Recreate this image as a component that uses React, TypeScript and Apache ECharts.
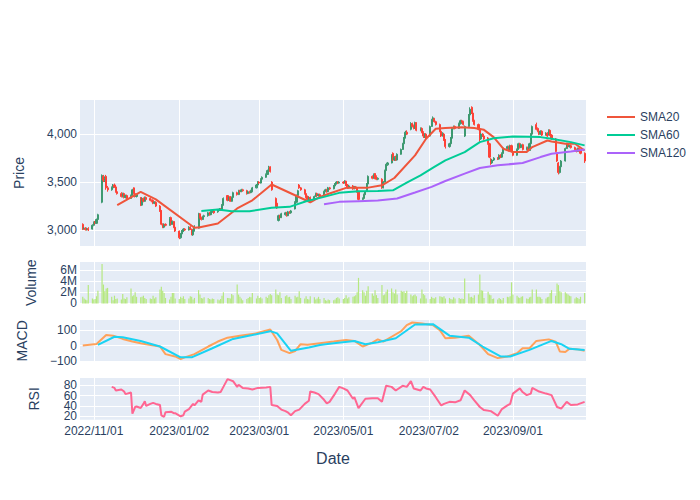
import React, { useEffect, useRef } from 'react';
import * as echarts from 'echarts';

const AXIS_START = '2022-10-22';
const AXIS_END = '2023-10-24';
const FIRST_TRADING_DAY = '2022-10-24';
const TICK_DATES = ['2022-11-01', '2023-01-02', '2023-03-01', '2023-05-01', '2023-07-02', '2023-09-01'];

// [open, close, low, high] per trading day
const candles: number[][] = [
  [3060,3010,3000,3070],[3010,3020,3005,3030],[3020,3005,2995,3030],[3005,3015,2995,3025],[3015,3000,2990,3030],
  [3010,3050,3005,3060],[3050,3080,3040,3090],[3080,3070,3060,3095],[3070,3110,3065,3120],[3110,3160,3100,3170],
  [3290,3570,3280,3580],[3560,3520,3500,3575],[3520,3540,3500,3560],[3560,3440,3420,3575],[3440,3420,3400,3460],
  [3420,3440,3410,3455],[3440,3470,3430,3480],[3470,3450,3440,3485],[3450,3400,3390,3460],[3400,3380,3370,3420],
  [3380,3350,3340,3395],[3350,3380,3340,3390],[3380,3340,3330,3390],[3340,3360,3330,3370],[3360,3330,3320,3370],
  [3330,3360,3325,3370],[3360,3420,3350,3430],[3440,3380,3370,3445],[3380,3350,3340,3390],[3350,3370,3340,3380],
  [3340,3260,3250,3345],[3260,3330,3255,3340],[3330,3300,3290,3340],[3300,3340,3295,3350],[3340,3320,3310,3350],
  [3330,3310,3300,3340],[3310,3300,3290,3320],[3310,3280,3270,3320],[3280,3290,3270,3300],[3290,3250,3240,3300],
  [3250,3200,3190,3260],[3200,3060,3050,3210],[3060,3030,3020,3070],[3030,3060,3020,3070],[3060,3050,3040,3070],
  [3050,3120,3045,3135],[3130,3060,3050,3140],[3060,3090,3055,3100],[3090,3030,3020,3095],[3030,2990,2980,3040],
  [2990,2920,2905,2995],[2920,2960,2910,2970],[2960,2990,2950,3000],[2990,3010,2980,3020],[3010,3000,2990,3020],
  [3000,3030,2995,3040],[3030,3010,3000,3040],[3010,2960,2945,3015],[2950,2990,2940,3000],[2990,3040,2985,3050],
  [3020,3170,3015,3180],[3170,3130,3120,3175],[3130,3110,3100,3140],[3110,3140,3105,3150],[3140,3150,3130,3160],
  [3150,3180,3140,3190],[3180,3160,3150,3190],[3160,3190,3155,3200],[3190,3200,3180,3210],[3200,3180,3170,3210],
  [3190,3210,3180,3220],[3210,3220,3200,3230],[3220,3210,3200,3230],[3210,3260,3205,3270],[3260,3330,3255,3340],
  [3360,3310,3300,3365],[3310,3340,3305,3350],[3350,3300,3295,3355],[3300,3340,3295,3350],[3340,3390,3335,3400],
  [3390,3370,3360,3400],[3370,3410,3365,3420],[3410,3400,3390,3420],[3400,3420,3395,3430],[3420,3410,3400,3430],
  [3410,3380,3370,3420],[3380,3400,3375,3410],[3400,3390,3380,3410],[3390,3410,3385,3420],[3400,3440,3395,3450],
  [3440,3470,3435,3480],[3470,3500,3460,3510],[3500,3490,3480,3510],[3490,3530,3485,3540],[3530,3550,3520,3560],
  [3550,3580,3545,3590],[3580,3620,3575,3630],[3620,3650,3610,3670],[3660,3610,3600,3665],[3500,3420,3410,3510],
  [3330,3250,3240,3340],[3280,3230,3220,3290],[3100,3150,3090,3160],[3150,3130,3120,3160],[3130,3170,3125,3180],
  [3160,3180,3150,3190],[3180,3150,3140,3190],[3150,3190,3145,3200],[3190,3180,3170,3200],[3180,3200,3170,3210],
  [3220,3290,3215,3300],[3290,3360,3285,3370],[3360,3410,3355,3420],[3470,3440,3430,3480],[3440,3420,3410,3450],
  [3420,3380,3370,3430],[3380,3340,3330,3390],[3350,3320,3310,3360],[3320,3340,3310,3350],[3340,3310,3300,3350],
  [3310,3350,3305,3360],[3350,3380,3345,3390],[3380,3360,3350,3390],[3360,3370,3350,3380],[3370,3350,3340,3380],
  [3350,3400,3345,3410],[3400,3420,3395,3430],[3420,3400,3390,3430],[3400,3440,3395,3450],[3440,3430,3420,3450],
  [3430,3460,3425,3470],[3460,3480,3455,3490],[3480,3500,3475,3510],[3500,3490,3480,3510],[3490,3500,3485,3510],
  [3500,3490,3480,3510],[3490,3510,3485,3520],[3510,3470,3460,3515],[3470,3440,3430,3480],[3440,3460,3435,3470],
  [3460,3430,3420,3470],[3430,3450,3425,3460],[3450,3440,3430,3460],[3440,3400,3390,3450],[3400,3320,3310,3410],
  [3320,3330,3310,3340],[3330,3370,3325,3380],[3370,3400,3365,3410],[3410,3480,3405,3490],[3480,3560,3475,3570],
  [3560,3540,3530,3570],[3540,3580,3535,3590],[3590,3540,3530,3595],[3560,3530,3520,3570],[3530,3540,3520,3550],
  [3530,3440,3430,3540],[3440,3500,3435,3510],[3500,3620,3495,3630],[3620,3680,3615,3690],[3680,3700,3670,3710],
  [3700,3780,3695,3790],[3800,3730,3720,3810],[3730,3760,3720,3770],[3760,3730,3720,3775],[3730,3790,3725,3800],
  [3790,3840,3785,3850],[3840,3900,3835,3910],[3900,3960,3895,3970],[3960,4020,3955,4035],[4020,4000,3990,4040],
  [4050,4110,4040,4125],[4110,4080,4070,4120],[4090,4060,4050,4100],[4060,4120,4055,4130],[4120,4040,4030,4125],
  [4040,4060,4030,4070],[4060,4020,4010,4070],[4020,3980,3960,4030],[3970,4000,3960,4010],[4000,3960,3950,4010],
  [3980,4080,3975,4090],[4080,4150,4075,4160],[4150,4170,4140,4185],[4160,4130,4120,4170],[4130,4100,4090,4140],
  [4100,4030,4020,4110],[4030,3980,3970,4040],[3980,4010,3975,4020],[4000,3940,3930,4010],[3940,3870,3850,3950],
  [3870,3900,3860,3910],[3900,3960,3895,3970],[3960,4060,3955,4070],[4060,4080,4050,4090],[4080,4060,4050,4090],
  [4060,4110,4055,4120],[4110,4140,4100,4150],[4140,4130,4120,4150],[4130,4100,4090,4140],[3980,4080,3970,4090],
  [4080,4200,4075,4210],[4200,4260,4190,4280],[4280,4220,4210,4290],[4220,4140,4130,4230],[4140,4100,4090,4150],
  [4100,4050,4040,4110],[4050,3950,3920,4060],[3950,4000,3940,4010],[4000,3980,3970,4010],[3980,3950,3940,3990],
  [3960,3900,3890,3970],[3900,3760,3750,3910],[3740,3700,3680,3750],[3700,3730,3690,3740],[3730,3750,3720,3760],
  [3750,3740,3730,3760],[3740,3780,3735,3790],[3780,3760,3750,3790],[3760,3800,3755,3810],[3800,3850,3795,3860],
  [3850,3870,3840,3880],[3870,3830,3820,3880],[3830,3880,3825,3890],[3880,3820,3810,3890],[3820,3780,3770,3830],
  [3780,3840,3775,3850],[3840,3900,3835,3910],[3900,3860,3850,3910],[3860,3890,3855,3900],[3890,3840,3830,3900],
  [3840,3860,3830,3870],[3860,3830,3820,3870],[3830,3900,3825,3910],[3900,4000,3895,4010],[4000,4080,3995,4090],
  [4100,4050,4040,4120],[4060,4030,4020,4070],[4030,4000,3990,4040],[4000,4030,3995,4040],[4030,3990,3980,4040],
  [3990,4010,3985,4020],[4010,3980,3970,4020],[3990,4040,3985,4050],[4040,3990,3980,4050],[3990,3950,3940,4000],
  [3950,3820,3810,3960],[3800,3720,3710,3810],[3700,3600,3580,3710],[3600,3660,3590,3670],[3660,3720,3650,3730],
  [3720,3850,3715,3860],[3850,3900,3845,3910],[3900,3870,3860,3910],[3870,3880,3860,3890],[3880,3860,3850,3890],
  [3860,3840,3830,3870],[3840,3820,3810,3850],[3820,3850,3815,3860],[3850,3830,3820,3860],[3830,3800,3790,3840],
  [3800,3720,3700,3810],
];

// volume in millions per trading day
const volumeM: number[] = [
  1.2,0.9,0.7,0.6,3.3,0.9,0.7,0.8,1.3,2.3,
  7.1,3.4,2.2,2.7,2.8,1.2,0.6,1.4,0.8,0.9,
  0.7,1.7,0.9,0.8,1.1,2.7,1.3,1.5,2.0,1.2,
  1.1,1.2,1.4,1.0,0.8,0.9,0.8,1.4,0.9,1.1,
  2.5,3.0,2.3,1.9,1.0,0.7,1.2,1.9,1.9,0.9,
  0.8,1.2,1.0,1.3,0.8,0.9,1.3,1.2,0.7,1.0,
  2.4,1.6,1.0,0.9,1.1,1.0,0.8,0.7,0.9,0.8,
  0.7,0.6,0.8,1.4,2.0,1.0,1.0,0.9,1.7,1.5,
  3.4,1.6,1.2,0.9,0.6,0.8,1.0,1.2,1.1,1.9,
  0.9,1.4,1.0,1.1,0.9,1.2,1.0,1.5,1.7,1.5,
  2.5,1.6,1.5,2.0,1.0,1.3,1.5,1.1,1.2,0.8,
  1.4,1.1,1.2,2.2,1.0,0.9,1.3,0.8,0.7,1.3,
  1.1,0.7,0.9,1.2,0.8,1.0,0.6,0.5,0.7,0.6,
  0.6,0.7,1.0,1.1,0.9,0.8,1.0,1.5,0.9,1.1,
  1.2,1.3,1.5,2.0,4.6,2.4,2.0,1.4,2.3,3.1,
  1.8,1.4,2.4,1.5,1.0,3.3,1.5,1.6,2.1,2.5,
  2.7,2.0,1.8,2.5,1.6,2.3,2.1,2.2,1.9,2.3,
  1.6,1.3,1.5,1.6,1.3,0.9,2.5,1.7,1.5,0.9,
  0.8,1.2,1.0,0.9,1.1,1.3,1.2,1.1,1.3,0.9,
  1.0,0.8,0.7,1.1,0.9,1.0,0.8,0.9,0.8,4.5,
  1.8,1.1,1.2,1.0,1.5,1.6,5.2,2.4,2.3,1.0,
  2.1,1.6,1.5,0.8,0.9,0.7,1.0,0.8,0.6,1.0,
  1.2,1.1,1.3,3.8,1.6,1.4,1.1,1.0,1.2,1.3,
  0.9,0.8,1.1,1.2,2.5,2.5,1.2,1.2,1.1,0.8,
  0.9,1.1,1.2,1.9,2.4,1.4,3.6,3.3,2.2,2.0,
  2.0,1.8,1.6,1.4,1.3,0.9,1.1,1.0,0.8,1.2,1.9,
];

const sma20: [string, number][] = [
  ['2022-11-18',3260],['2022-12-05',3398],['2022-12-16',3320],['2023-01-13',3024],['2023-01-17',3030],
  ['2023-01-30',3069],['2023-02-13',3225],['2023-02-24',3310],['2023-03-10',3475],['2023-04-07',3290],
  ['2023-04-14',3346],['2023-04-21',3381],['2023-05-03',3440],['2023-05-18',3440],['2023-05-29',3467],
  ['2023-06-07',3543],['2023-06-22',3779],['2023-06-30',3952],['2023-07-07',4056],['2023-07-14',4063],
  ['2023-07-26',4073],['2023-08-04',4063],['2023-08-11',4045],['2023-08-18',3969],['2023-08-25',3848],
  ['2023-09-01',3813],['2023-09-11',3813],['2023-09-15',3865],['2023-09-26',3934],['2023-09-29',3924],
  ['2023-10-09',3900],['2023-10-16',3900],['2023-10-23',3830],
];
const sma60: [string, number][] = [
  ['2023-01-18',3200],['2023-01-30',3215],['2023-02-09',3197],['2023-02-22',3197],['2023-03-10',3232],
  ['2023-03-23',3242],['2023-04-04',3300],['2023-04-17',3346],['2023-04-28',3388],['2023-05-12',3405],
  ['2023-05-26',3408],['2023-06-06',3415],['2023-06-16',3495],['2023-06-26',3571],['2023-07-06',3658],
  ['2023-07-14',3727],['2023-07-28',3813],['2023-08-08',3917],['2023-08-18',3958],['2023-09-01',3976],
  ['2023-09-21',3969],['2023-09-29',3952],['2023-10-13',3917],['2023-10-23',3883],
];
const sma120: [string, number][] = [
  ['2023-04-17',3270],['2023-04-28',3294],['2023-05-12',3301],['2023-05-26',3308],['2023-06-09',3329],
  ['2023-06-22',3391],['2023-07-04',3450],['2023-07-14',3512],['2023-07-28',3588],['2023-08-08',3647],
  ['2023-08-21',3675],['2023-09-08',3699],['2023-09-21',3761],['2023-09-29',3796],['2023-10-13',3820],
  ['2023-10-23',3841],
];
const macd: [string, number][] = [
  ['2022-10-24',0],['2022-11-03',10],['2022-11-10',68],['2022-11-15',64],['2022-11-22',43],['2022-11-29',26],
  ['2022-12-05',15],['2022-12-09',8],['2022-12-19',-6],['2022-12-23',-55],['2022-12-30',-70],['2023-01-03',-87],
  ['2023-01-06',-76],['2023-01-13',-55],['2023-01-23',-6],['2023-01-30',26],['2023-02-06',51],['2023-02-15',64],
  ['2023-02-27',79],['2023-03-09',104],['2023-03-14',36],['2023-03-17',-28],['2023-03-23',-49],['2023-03-27',-35],
  ['2023-03-31',9],['2023-04-05',5],['2023-04-14',15],['2023-04-24',26],['2023-05-03',36],['2023-05-09',30],
  ['2023-05-15',-6],['2023-05-22',19],['2023-05-26',40],['2023-05-30',25],['2023-06-05',57],['2023-06-12',93],
  ['2023-06-16',132],['2023-06-20',149],['2023-06-27',142],['2023-07-05',132],['2023-07-10',100],['2023-07-14',47],
  ['2023-07-21',51],['2023-07-31',64],['2023-08-08',4],['2023-08-14',-55],['2023-08-21',-81],['2023-08-28',-70],
  ['2023-09-04',-49],['2023-09-08',-17],['2023-09-13',-17],['2023-09-18',30],['2023-09-27',40],['2023-10-02',25],
  ['2023-10-05',-38],['2023-10-09',-42],['2023-10-12',-21],['2023-10-17',-23],['2023-10-23',-34],
];
const signal: [string, number][] = [
  ['2022-11-04',4],['2022-11-16',57],['2022-11-22',54],['2022-12-05',30],['2022-12-19',-6],['2023-01-03',-76],
  ['2023-01-11',-76],['2023-01-26',-17],['2023-02-10',43],['2023-02-24',68],['2023-03-09',93],['2023-03-14',79],
  ['2023-03-24',-34],['2023-04-06',-13],['2023-04-14',4],['2023-04-24',15],['2023-05-09',30],['2023-05-17',9],
  ['2023-05-26',21],['2023-06-08',47],['2023-06-22',136],['2023-07-05',138],['2023-07-17',64],['2023-07-31',51],
  ['2023-08-10',-6],['2023-08-23',-70],['2023-08-30',-70],['2023-09-13',-28],['2023-09-29',30],['2023-10-06',9],
  ['2023-10-12',-21],['2023-10-23',-28],
];
const rsi: [string, number][] = [
  ['2022-11-14',77],['2022-11-16',75],['2022-11-17',70],['2022-11-21',72],['2022-11-23',68],['2022-11-24',63],
  ['2022-11-28',66],['2022-11-29',25],['2022-12-01',38],['2022-12-02',39],['2022-12-05',36],['2022-12-07',44],
  ['2022-12-08',49],['2022-12-09',40],['2022-12-12',44],['2022-12-14',46],['2022-12-16',44],['2022-12-19',42],
  ['2022-12-20',22],['2022-12-22',19],['2022-12-23',28],['2022-12-27',29],['2022-12-29',26],['2022-12-30',26],
  ['2023-01-03',20],['2023-01-05',22],['2023-01-06',29],['2023-01-09',34],['2023-01-12',44],['2023-01-13',41],
  ['2023-01-16',51],['2023-01-18',48],['2023-01-19',62],['2023-01-23',70],['2023-01-26',67],['2023-01-30',66],
  ['2023-02-01',67],['2023-02-03',77],['2023-02-06',92],['2023-02-08',90],['2023-02-10',88],['2023-02-13',77],
  ['2023-02-14',81],['2023-02-17',75],['2023-02-21',74],['2023-02-24',72],['2023-02-28',75],['2023-03-06',76],
  ['2023-03-09',77],['2023-03-10',42],['2023-03-14',40],['2023-03-17',33],['2023-03-20',30],['2023-03-22',27],
  ['2023-03-24',22],['2023-03-27',30],['2023-03-30',33],['2023-04-03',44],['2023-04-06',50],['2023-04-07',68],
  ['2023-04-10',66],['2023-04-13',63],['2023-04-17',52],['2023-04-19',45],['2023-04-21',48],['2023-04-25',64],
  ['2023-04-28',77],['2023-05-01',74],['2023-05-04',70],['2023-05-08',54],['2023-05-09',57],['2023-05-12',36],
  ['2023-05-17',54],['2023-05-22',55],['2023-05-26',55],['2023-05-29',48],['2023-06-01',79],['2023-06-05',77],
  ['2023-06-08',70],['2023-06-13',79],['2023-06-16',77],['2023-06-19',88],['2023-06-21',74],['2023-06-26',70],
  ['2023-06-28',77],['2023-06-30',74],['2023-07-03',72],['2023-07-07',57],['2023-07-11',41],['2023-07-13',44],
  ['2023-07-17',48],['2023-07-21',47],['2023-07-25',51],['2023-07-28',70],['2023-08-01',61],['2023-08-04',51],
  ['2023-08-08',38],['2023-08-11',32],['2023-08-16',30],['2023-08-21',21],['2023-08-24',34],['2023-08-28',41],
  ['2023-08-30',44],['2023-09-01',64],['2023-09-06',74],['2023-09-08',67],['2023-09-11',61],['2023-09-14',64],
  ['2023-09-15',75],['2023-09-20',68],['2023-09-25',64],['2023-09-29',61],['2023-10-03',38],['2023-10-06',35],
  ['2023-10-10',48],['2023-10-13',42],['2023-10-18',43],['2023-10-23',48],
];

const DAY = 86400000;
const toUTC = (s: string) => {
  const [y, m, d] = s.split('-').map(Number);
  return Date.UTC(y, m - 1, d);
};
const fmt = (t: number) => new Date(t).toISOString().slice(0, 10);
const categories: string[] = [];
for (let t = toUTC(AXIS_START); t <= toUTC(AXIS_END); t += DAY) categories.push(fmt(t));
const catIndex = (s: string) => Math.round((toUTC(s) - toUTC(AXIS_START)) / DAY);
const tradingDays: string[] = [];
{
  let t = toUTC(FIRST_TRADING_DAY);
  while (tradingDays.length < candles.length) {
    const wd = new Date(t).getUTCDay();
    if (wd !== 0 && wd !== 6) tradingDays.push(fmt(t));
    t += DAY;
  }
}

const TEXT = '#2a3f5f';
const FONT = '"Liberation Sans", Arial, Helvetica, sans-serif';
const BG = '#E5ECF6';

const isTick = (_i: number, v: string) => TICK_DATES.indexOf(v) >= 0;
const pts = (arr: [string, number][]) => arr.map(([d, v]) => [catIndex(d), v]);

export default function App() {
  const ref = useRef<HTMLDivElement>(null);
  useEffect(() => {
    if (!ref.current) return;
    const chart = echarts.init(ref.current, undefined, { renderer: 'svg' });
    const gridBase = { left: 80, right: 114, show: true, backgroundColor: BG, borderWidth: 0 };
    const grids = [
      { ...gridBase, top: 100, height: 146 },
      { ...gridBase, top: 262, height: 41.5 },
      { ...gridBase, top: 320, height: 41.7 },
      { ...gridBase, top: 378, height: 41.7 },
    ];
    const xAxes = [0, 1, 2, 3].map((i) => ({
      type: 'category',
      gridIndex: i,
      data: categories,
      boundaryGap: false,
      axisLine: { show: false },
      axisTick: { show: false },
      axisLabel: i === 3
        ? { show: true, interval: isTick, formatter: (v: string) => v.replace(/-/g, '/'), color: TEXT, fontSize: 12, fontFamily: FONT, margin: 5 }
        : { show: false },
      splitLine: { show: true, interval: isTick, lineStyle: { color: '#ffffff', width: 1 } },
      name: i === 3 ? 'Date' : '',
      nameLocation: 'middle',
      nameGap: 31,
      nameTextStyle: { color: TEXT, fontSize: 16, fontFamily: FONT },
    }));
    const yBase = (i: number, name: string, gap: number) => ({
      type: 'value',
      gridIndex: i,
      name,
      nameLocation: 'middle',
      nameRotate: 90,
      nameGap: gap,
      nameTextStyle: { color: TEXT, fontSize: 14, fontFamily: FONT },
      axisLine: { show: false },
      axisTick: { show: false },
      splitLine: { show: true, showMinLine: false, showMaxLine: false, lineStyle: { color: '#ffffff', width: 1 } },
    });
    const labelBase = { color: TEXT, fontSize: 12, lineHeight: 10, fontFamily: FONT, margin: 3, showMinLabel: false, showMaxLabel: false };
    const yAxes = [
      { ...yBase(0, 'Price', 54), min: 2834, max: 4356, minInterval: 500, maxInterval: 500,
        axisLabel: { ...labelBase, formatter: (v: number) => v.toLocaleString('en-US') } },
      { ...yBase(1, 'Volume', 42), min: -0.001, max: 7.45, minInterval: 2, maxInterval: 2,
        axisLabel: { ...labelBase, formatter: (v: number) => (Math.abs(v) < 0.01 ? '0' : v + 'M') } },
      { ...yBase(2, 'MACD', 51), min: -104, max: 165, minInterval: 100, maxInterval: 100,
        axisLabel: { ...labelBase, formatter: (v: number) => (v < 0 ? '\u2212' + Math.abs(v) : String(v)) } },
      { ...yBase(3, 'RSI', 39), min: 13.4, max: 94.2, minInterval: 20, maxInterval: 20,
        axisLabel: { ...labelBase } },
    ];
    const lineSeries = (name: string, data: [string, number][], color: string, axis: number) => ({
      type: 'line',
      name,
      xAxisIndex: axis,
      yAxisIndex: axis,
      data: pts(data),
      showSymbol: false,
      symbol: 'none',
      lineStyle: { color, width: 2 },
      itemStyle: { color },
      z: 3,
    });
    chart.setOption({
      animation: false,
      grid: grids,
      xAxis: xAxes,
      yAxis: yAxes,
      legend: {
        data: ['SMA20', 'SMA60', 'SMA120'],
        orient: 'vertical',
        left: 602,
        top: 105,
        icon: 'rect',
        itemWidth: 28,
        itemHeight: 2,
        itemGap: 4,
        textStyle: { color: TEXT, fontSize: 12, fontFamily: FONT, lineHeight: 14 },
      },
      series: [
        {
          type: 'candlestick',
          name: 'Price',
          xAxisIndex: 0,
          yAxisIndex: 0,
          data: candles.map((c, i) => [catIndex(tradingDays[i]), c[0], c[1], c[2], c[3]]),
          encode: { x: 0, y: [1, 2, 3, 4] },
          barWidth: 1.6,
          itemStyle: { color: '#3D9970', color0: '#FF4136', borderColor: '#3D9970', borderColor0: '#FF4136', borderWidth: 1 },
        },
        lineSeries('SMA20', sma20, '#EF553B', 0),
        lineSeries('SMA60', sma60, '#00CC96', 0),
        lineSeries('SMA120', sma120, '#AB63FA', 0),
        {
          type: 'bar',
          name: 'Volume',
          xAxisIndex: 1,
          yAxisIndex: 1,
          data: volumeM.map((v, i) => [catIndex(tradingDays[i]), v]),
          barWidth: 1.2,
          itemStyle: { color: '#B6E880' },
        },
        lineSeries('MACD', macd, '#FFA15A', 2),
        lineSeries('Signal', signal, '#19D3F3', 2),
        lineSeries('RSI', rsi, '#FF6692', 3),
      ],
    });
    return () => chart.dispose();
  }, []);
  return <div ref={ref} style={{ position: 'absolute', left: 0, top: 0, width: 700, height: 500, background: '#fff' }} />;
}
